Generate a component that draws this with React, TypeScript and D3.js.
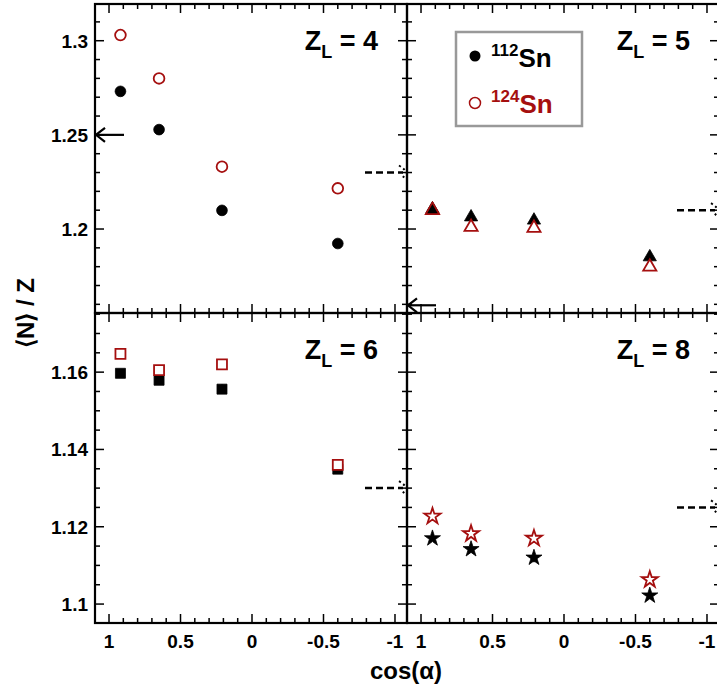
import * as d3 from 'd3'

// cos(alpha) bins shared by every panel
const cosBins = [0.92, 0.65, 0.21, -0.6]

// <N>/Z values per panel (112Sn black, 124Sn red)
const sn112Z4 = [1.2731, 1.2528, 1.2099, 1.1923]
const sn124Z4 = [1.303, 1.280, 1.2331, 1.2216]
const sn112Z5 = [1.2117, 1.2074, 1.2057, 1.1862]
const sn124Z5 = [1.211, 1.2021, 1.2016, 1.181]
const sn112Z6 = [1.1597, 1.1579, 1.1556, 1.1349]
const sn124Z6 = [1.1647, 1.1605, 1.162, 1.136]
const sn112Z8 = [1.117, 1.1142, 1.112, 1.1022]
const sn124Z8 = [1.1227, 1.1182, 1.117, 1.1063]
const errs = [0.0006, 0.0008, 0.0012, 0.0008]

// solid arrows (left) and dashed arrows (right) per row
const topSolid = 1.25
const topDashed = [1.23, 1.21]
const botDashed = [1.13, 1.125]
const rightSolidTop = 1.1595

const xTicks = [1, 0.5, 0, -0.5, -1]
const topTicks = [1.2, 1.25, 1.3]
const botTicks = [1.1, 1.12, 1.14, 1.16]

const RED = '#a50f0f'
const font = 'Arial, "Liberation Sans", sans-serif'

const x0 = 95, pw = 312
const yTop = [4, 313], yBot = [313, 623]

function Panel({ col, rowTop, label, black, red, shape, dashed, solidLeft, solidRightEdge }) {
  const left = x0 + col * pw
  const x = d3.scaleLinear().domain([1.098, -1.084]).range([left, left + pw])
  const y = rowTop
    ? d3.scaleLinear().domain([1.1554, 1.3195]).range([yTop[1], yTop[0]])
    : d3.scaleLinear().domain([1.0951, 1.1753]).range([yBot[1], yBot[0]])
  const [top, bottom] = rowTop ? yTop : yBot
  const minorStep = rowTop ? 0.01 : 0.005
  const yMinor = d3.range(Math.ceil(y.domain()[0] / minorStep) * minorStep, y.domain()[1], minorStep)
  const xMinor = d3.range(-1.0, 1.0001, 0.1)
  const isMajY = (v) => (rowTop ? Math.abs(v * 20 - Math.round(v * 20)) < 1e-6 : Math.abs(v * 50 - Math.round(v * 50)) < 1e-6)
  const isMajX = (v) => Math.abs(v * 2 - Math.round(v * 2)) < 1e-6
  const sym = d3.symbol().type(
    shape === 'tri' ? d3.symbolTriangle : shape === 'sq' ? d3.symbolSquare : shape === 'star' ? d3.symbolStar : d3.symbolCircle
  ).size(shape === 'star' ? 80 : shape === 'tri' ? 75 : shape === 'sq' ? 100 : 90)
  const right = left + pw
  const markers = (vals, filled, color) =>
    vals.map((v, i) => (
      <g key={i} transform={`translate(${x(cosBins[i])},${y(v)})`}>
        <line x1={0} x2={0} y1={y(v + errs[i]) - y(v)} y2={y(v - errs[i]) - y(v)} stroke={color} strokeWidth={1.5} />
        <path d={sym()} fill={filled ? color : 'white'} stroke={color} strokeWidth={filled ? 0.8 : 1.8}
          transform={shape === 'tri' ? 'translate(0,2)' : undefined} />
      </g>
    ))
  return (
    <g>
      {yMinor.map((v, i) => {
        const L = isMajY(v) ? 9 : 5
        return (
          <g key={i} stroke="black" strokeWidth={1.5}>
            <line x1={left} x2={left + L} y1={y(v)} y2={y(v)} />
            <line x1={right} x2={right - L} y1={y(v)} y2={y(v)} />
          </g>
        )
      })}
      {xMinor.map((v, i) => {
        const L = isMajX(v) ? 9 : 5
        return (
          <g key={i} stroke="black" strokeWidth={1.5}>
            <line x1={x(v)} x2={x(v)} y1={bottom} y2={bottom - L} />
            <line x1={x(v)} x2={x(v)} y1={top} y2={top + L} />
          </g>
        )
      })}
      <rect x={left} y={top} width={pw} height={bottom - top} fill="none" stroke="black" strokeWidth={2.2} />
      {col === 0 && (rowTop ? topTicks : botTicks).map((t) => (
        <text key={t} x={left - 7} y={y(t) + 7} textAnchor="end" fontFamily={font} fontWeight="bold" fontSize={19}>
          {rowTop ? d3.format('')(t) : d3.format('.2~f')(t)}
        </text>
      ))}
      {!rowTop && xTicks.map((t) => (
        <text key={t} x={x(t)} y={648} textAnchor="middle" fontFamily={font} fontWeight="bold" fontSize={19}>{t}</text>
      ))}
      <text x={left + 283} y={50} dy={rowTop ? 0 : 309} textAnchor="end" fontFamily={font} fontWeight="bold" fontSize={27}>
        Z<tspan fontSize={18} dy={8}>L</tspan><tspan dy={-8}> = {label}</tspan>
      </text>
      {markers(black, true, 'black')}
      {markers(red, false, RED)}
      {shape === 'tri' && <path d={sym()} transform={`translate(${x(cosBins[0])},${y(red[0]) + 2})`} fill="black" stroke={RED} strokeWidth={1.5} />}
      <g stroke="black" strokeWidth={2.5} fill="none">
        <line x1={right - 42} x2={right - 4} y1={y(dashed)} y2={y(dashed)} strokeDasharray="7,4" />
        <path d={`M${right - 8},${y(dashed) - 7} Q${right - 2},${y(dashed) - 3} ${right},${y(dashed)} Q${right - 3},${y(dashed) + 4} ${right - 6},${y(dashed) + 7}`} strokeDasharray="2,3" strokeWidth={2} />
      </g>
      {[solidLeft, solidRightEdge].filter((v) => v !== undefined).map((v, i) => (
        <g key={i} stroke="black" strokeWidth={2.2} fill="none">
          <line x1={left + 1} x2={left + 29} y1={y(v)} y2={y(v)} />
          <path d={`M${left + 10},${y(v) - 7} L${left + 1},${y(v)} L${left + 10},${y(v) + 7}`} />
        </g>
      ))}
    </g>
  )
}

export default function App() {
  return (
    <svg width={717} height={685} style={{ position: 'absolute', left: 0, top: 0 }}>
      <rect width={717} height={685} fill="white" />
      <Panel col={0} rowTop label="4" black={sn112Z4} red={sn124Z4} shape="circle" dashed={topDashed[0]} solidLeft={topSolid} />
      <Panel col={1} rowTop label="5" black={sn112Z5} red={sn124Z5} shape="tri" dashed={topDashed[1]} solidRightEdge={rightSolidTop} />
      <Panel col={0} rowTop={false} label="6" black={sn112Z6} red={sn124Z6} shape="sq" dashed={botDashed[0]} />
      <Panel col={1} rowTop={false} label="8" black={sn112Z8} red={sn124Z8} shape="star" dashed={botDashed[1]} />
      <g>
        <rect x={456} y={32} width={126} height={94} fill="white" stroke="#999" strokeWidth={2.5} />
        <circle cx={475} cy={56} r={5.5} fill="black" />
        <text x={491} y={67} fontFamily={font} fontWeight="bold" fontSize={26}>
          <tspan fontSize={17} dy={-11}>112</tspan><tspan dy={11}>Sn</tspan>
        </text>
        <circle cx={475} cy={103} r={5.5} fill="white" stroke={RED} strokeWidth={1.5} />
        <text x={491} y={113} fontFamily={font} fontWeight="bold" fontSize={26} fill={RED}>
          <tspan fontSize={17} dy={-11}>124</tspan><tspan dy={11}>Sn</tspan>
        </text>
      </g>
      <text x={406} y={679} textAnchor="middle" fontFamily={font} fontWeight="bold" fontSize={24}>cos(α)</text>
      <text transform="translate(34,313) rotate(-90)" textAnchor="middle" fontFamily={font} fontWeight="bold" fontSize={24}>⟨N⟩ / Z</text>
    </svg>
  )
}
